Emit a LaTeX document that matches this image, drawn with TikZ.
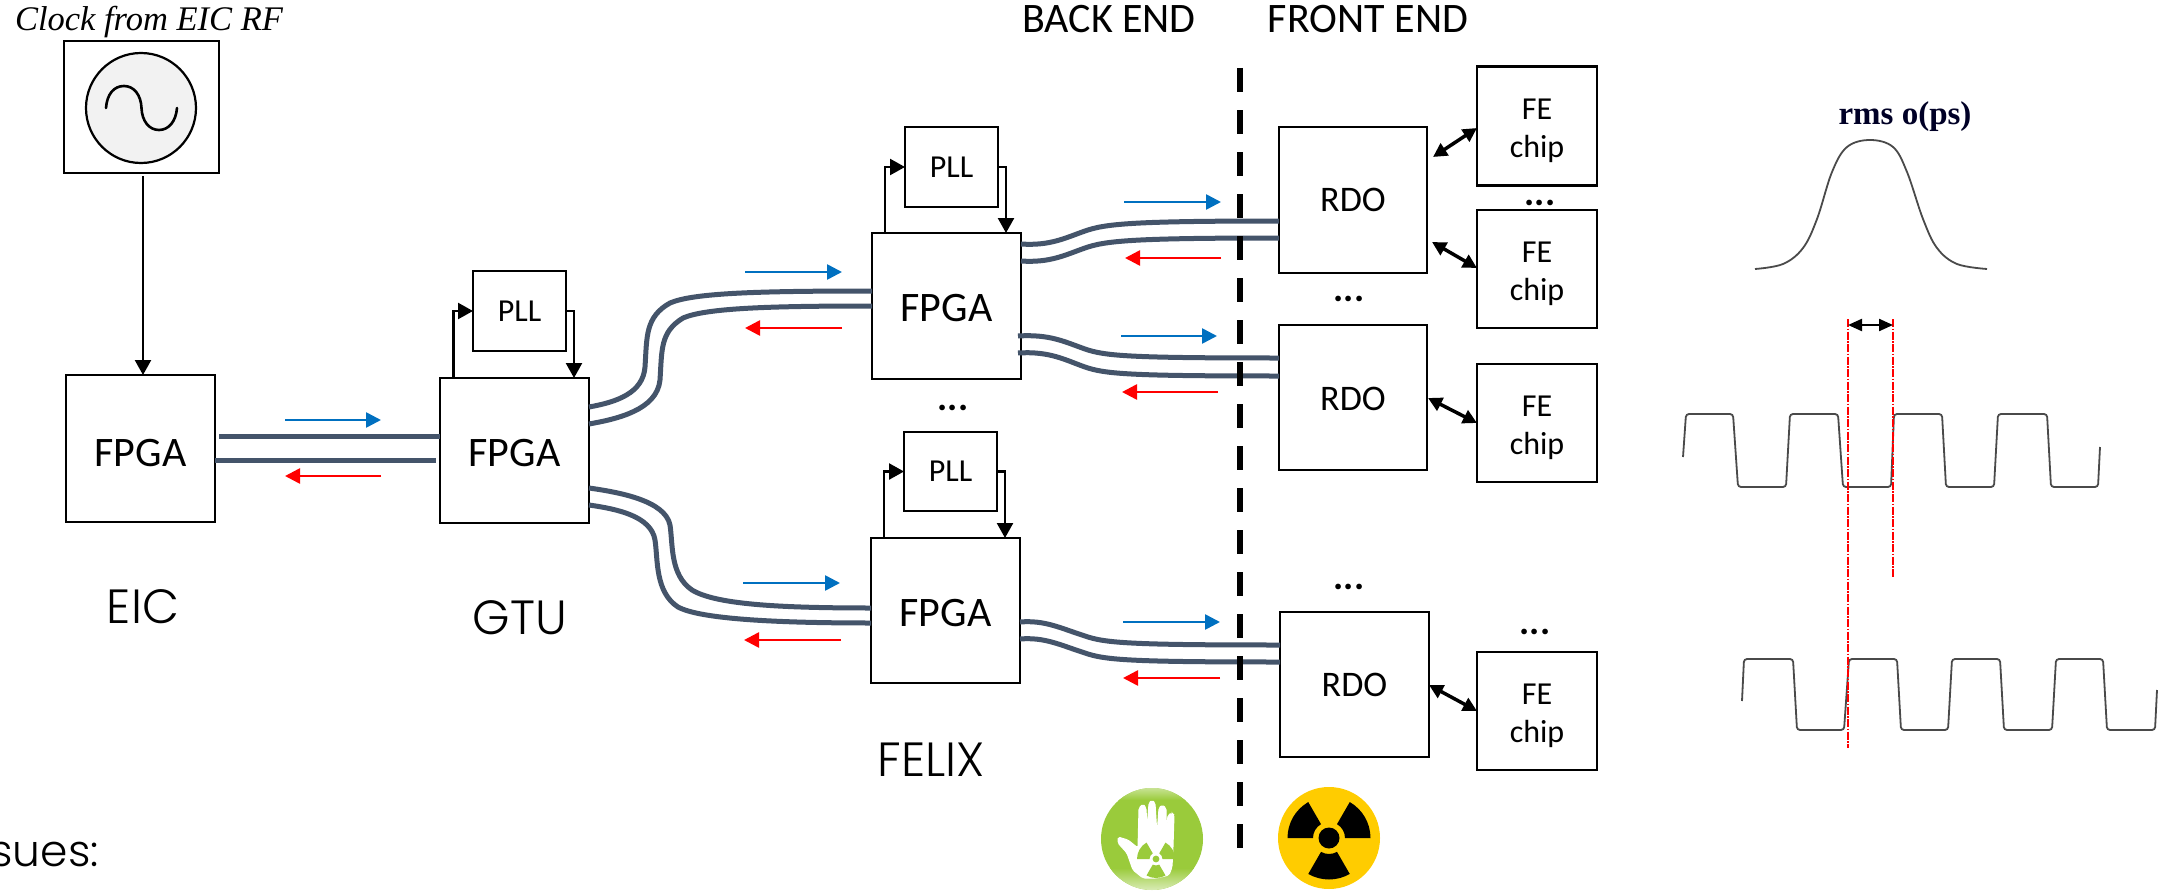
\documentclass[tikz,border=0pt]{standalone}
\usepackage{fontspec}
\usetikzlibrary{arrows.meta,calc}
\setmainfont{Carlito}
\newfontfamily\gothic[UprightFont=* Light]{Poppins}
\newfontfamily\seriffam{Liberation Serif}
\definecolor{wirecol}{HTML}{44546A}
\definecolor{bluecol}{HTML}{0070C0}
\definecolor{wavecol}{HTML}{4A4A4A}
\definecolor{greencol}{HTML}{9ACB3B}
\definecolor{yellowcol}{HTML}{FFCC00}
\newcommand{\fsz}[1]{\fontsize{#1}{#1}\selectfont}
\newcommand{\trefoil}[5]{%
  \begin{scope}[shift={(#1,#2)}]
  \foreach \a in {0,120,240}{
    \fill[#5] (\a:#3pt) -- (\a:#4pt) arc[start angle=\a,delta angle=60,radius=#4pt] -- (\a+60:#3pt) arc[start angle=\a+60,delta angle=-60,radius=#3pt] -- cycle;
  }
  \end{scope}}
\tikzset{
  boxn/.style={draw=black,line width=2.5pt,outer sep=0pt,inner sep=0pt,align=center},
  fpgabox/.style={boxn,minimum width=149pt,minimum height=146pt,font=\fsz{42}},
  pllbox/.style={boxn,minimum width=93pt,minimum height=80pt,font=\fsz{32}},
  rdobox/.style={boxn,minimum width=148pt,minimum height=146pt,font=\fsz{36}},
  febox/.style={boxn,minimum width=120pt,minimum height=118pt,font=\fontsize{32}{38}\selectfont},
  wire/.style={draw=wirecol,line width=5pt},
  bluearrow/.style={draw=bluecol,line width=2.6pt,-{Triangle[length=15pt,width=15pt]}},
  redarrow/.style={draw=red,line width=2.6pt,-{Triangle[length=15pt,width=15pt]}},
  blackarrow/.style={draw=black,line width=2.4pt,-{Triangle[length=15pt,width=16pt]}},
  dblarrow/.style={draw=black,line width=3.5pt,{Triangle[length=14pt,width=14pt]}-{Triangle[length=14pt,width=14pt]}},
  signal/.style={draw=wavecol,line width=1.8pt,rounded corners=3pt},
  reddash/.style={draw=red,line width=1.8pt,dash pattern=on 8pt off 1.5pt on 1.5pt off 1.5pt},
  dots/.style={inner sep=0pt,font=\bfseries\fsz{38}},
  biglabel/.style={inner sep=0pt,font=\gothic\fsz{48}},
  headlabel/.style={inner sep=0pt,font=\fsz{42}}
}
\begin{document}
\begin{tikzpicture}[x=1pt,y=-1pt]
\useasboundingbox (0,0) rectangle (2172,891);
\fill[white] (0,0) rectangle (2172,891);

% source
\node[boxn,minimum width=155pt,minimum height=132pt] (clk) at (141.5,107) {};
\node[draw=black,line width=2.2pt,fill=black!5,circle,minimum size=110pt,inner sep=0pt,outer sep=0pt] (osc) at (141,108) {};
\draw[line width=2.6pt,line cap=round] (106,108) .. controls (107,94) and (114,86) .. (124,86) .. controls (134,86) and (141,95) .. (141.5,108) .. controls (142,121) and (149,130) .. (159,130) .. controls (169,130) and (176,121) .. (177,108);
\node[inner sep=0pt,font=\seriffam\itshape\fsz{34.5}] (clktxt) at (149,22) {Clock from EIC RF};

% boxes
\node[fpgabox,minimum height=147pt] (fa) at (140.5,448.5) {\rule{0pt}{36pt}FPGA};
\node[fpgabox,minimum height=145pt] (fb) at (514.5,450.5) {\rule{0pt}{32pt}FPGA};
\node[fpgabox] (fc) at (946.5,306) {\rule{0pt}{32pt}FPGA};
\node[fpgabox,minimum height=145pt] (fd) at (945.5,610.5) {\rule{0pt}{32pt}FPGA};
\node[pllbox] (pa) at (519.5,311) {PLL};
\node[pllbox] (pb) at (951.5,167) {PLL};
\node[pllbox,minimum height=79pt] (pc) at (950.5,471.5) {PLL};
\node[rdobox] (ra) at (1353,200) {RDO};
\node[rdobox,minimum height=145pt] (rb) at (1353,397.5) {\rule{0pt}{27pt}RDO};
\node[rdobox,minimum width=149pt,minimum height=145pt] (rc) at (1354.5,684.5) {RDO};
\node[febox,minimum height=119pt] (fea) at (1537,126) {\rule{0pt}{31pt}FE\\chip};
\node[febox] (feb) at (1537,269) {\rule{0pt}{31pt}FE\\chip};
\node[febox] (fec) at (1537,423) {\rule{0pt}{31pt}FE\\chip};
\node[febox] (fed) at (1537,711) {\rule{0pt}{31pt}FE\\chip};

% labels
\node[biglabel] (leic) at (143,607) {EIC};
\node[biglabel] (lgtu) at (520,618) {GTU};
\node[biglabel] (lfelix) at (931,760) {FELIX};
\node[inner sep=0pt,font=\gothic\fsz{44},anchor=base east] (lissues) at (99,866) {ssues:};
\node[headlabel] (lback) at (1109,19) {BACK END};
\node[headlabel] (lfront) at (1368,19) {FRONT END};
\node[dots] (d1) at (953,408) {...};
\node[dots] (d2) at (1349,299) {...};
\node[dots] (d3) at (1540,203) {...};
\node[dots] (d4) at (1349,587) {...};
\node[dots] (d5) at (1535,632) {...};

% clock and PLL loops
\draw[blackarrow] (clk.south -| 143,0) ++(0,3) -- (fa.north -| 143,0);
\draw[blackarrow] (fb.north -| 453.5,0) |- (pa.west);
\draw[blackarrow] (pa.east) -| (fb.north -| 574,0);
\draw[blackarrow] (fc.north -| 885,0) |- (pb.west);
\draw[blackarrow] (pb.east) -| (fc.north -| 1006,0);
\draw[blackarrow] (fd.north -| 884,0) |- (pc.west);
\draw[blackarrow] (pc.east) -| (fd.north -| 1005,0);

% fibres
\draw[wire] (fa.east |- 0,436) ++(4,0) -- (fb.west |- 0,436);
\draw[wire] (fa.east |- 0,460) -- ($(fb.west |- 0,460)+(-4,0)$);
\draw[wire] (fb.east |- 0,407) .. controls (617,402) and (643,393) .. (645,367) .. controls (647,337) and (645,317) .. (670,303) .. controls (693,293) and (757,291) .. (fc.west |- 0,291);
\draw[wire] (fb.east |- 0,424) .. controls (617,419) and (657,410) .. (660,380) .. controls (662,350) and (660,332) .. (683,318) .. controls (706,308) and (770,306) .. (fc.west |- 0,306);
\draw[wire] (fb.east |- 0,488) .. controls (617,492) and (665,500) .. (670,525) .. controls (673,545) and (670,575) .. (692,590) .. controls (715,604) and (775,608) .. (fd.west |- 0,608);
\draw[wire] (fb.east |- 0,505) .. controls (617,509) and (651,516) .. (655,540) .. controls (658,560) and (655,592) .. (678,607) .. controls (700,619) and (775,623) .. (fd.west |- 0,623);
\draw[wire] (fc.east |- 0,244) .. controls (1050,246) and (1065,238) .. (1085,231) .. controls (1105,224) and (1130,221) .. (ra.west |- 0,221);
\draw[wire] (fc.east |- 0,261) .. controls (1050,263) and (1065,255) .. (1085,248) .. controls (1105,241) and (1130,238) .. (ra.west |- 0,238);
\draw[wire] (fc.east |- 0,336) ++(-3,0) .. controls (1050,334) and (1065,342) .. (1085,349) .. controls (1105,356) and (1130,358) .. (rb.west |- 0,358);
\draw[wire] (fc.east |- 0,353) ++(-3,0) .. controls (1050,351) and (1065,360) .. (1085,367) .. controls (1105,374) and (1130,376) .. (rb.west |- 0,376);
\draw[wire] (fd.east |- 0,622) .. controls (1045,620) and (1060,628) .. (1085,636) .. controls (1105,643) and (1130,645) .. (rc.west |- 0,645);
\draw[wire] (fd.east |- 0,639) .. controls (1045,637) and (1060,645) .. (1085,653) .. controls (1105,660) and (1130,662) .. (rc.west |- 0,662);

% direction arrows
\coordinate (b1s) at (285,420); \coordinate (b1e) at (381,420);
\coordinate (r1s) at (381,476); \coordinate (r1e) at (285,476);
\coordinate (b2s) at (745,272); \coordinate (b2e) at (842,272);
\coordinate (r2s) at (842,328); \coordinate (r2e) at (745,328);
\coordinate (b3s) at (743,583); \coordinate (b3e) at (840,583);
\coordinate (r3s) at (841,640); \coordinate (r3e) at (744,640);
\coordinate (b4s) at (1124,202); \coordinate (b4e) at (1221,202);
\coordinate (r4s) at (1221,258); \coordinate (r4e) at (1125,258);
\coordinate (b5s) at (1121,336); \coordinate (b5e) at (1217,336);
\coordinate (r5s) at (1218,392); \coordinate (r5e) at (1122,392);
\coordinate (b6s) at (1123,622); \coordinate (b6e) at (1220,622);
\coordinate (r6s) at (1220,678); \coordinate (r6e) at (1123,678);
\foreach \i in {1,...,6}{
  \draw[bluearrow] (b\i s) -- (b\i e);
  \draw[redarrow] (r\i s) -- (r\i e);
}

% boundary
\coordinate (bdtop) at (1240,68); \coordinate (bdbot) at (1240,848);
\draw[line width=6pt,dash pattern=on 24pt off 18pt] (bdtop) -- (bdbot);

% FE links
\draw[dblarrow] (ra.east |- 0,157) ++(6,0) -- (fea.west |- 0,128);
\draw[dblarrow] (ra.east |- 0,242) ++(5,0) -- (feb.west |- 0,268);
\draw[dblarrow] (rb.east |- 0,398) ++(1,0) -- (fec.west |- 0,423);
\draw[dblarrow] (rc.east |- 0,685) -- (fed.west |- 0,711);

% jitter panel
\draw[draw=wavecol,line width=1.8pt] plot[smooth,tension=.6] coordinates {(1755,269) (1783,264) (1803,248) (1817,219) (1832,172) (1847,147) (1870,140) (1893,147) (1907,172) (1923,219) (1937,248) (1957,264) (1987,269)};
\node[inner sep=0pt,font=\seriffam\bfseries\fsz{33},text=black!75!blue!60!black] (rms) at (1905,117) {rms o(ps)};
\draw[signal] (1683,457) -- (1686,414) -- (1733,414) -- (1738,487) -- (1786,487) -- (1790,414) -- (1838,414) -- (1843,487) -- (1891,487) -- (1894,414) -- (1942,414) -- (1946,487) -- (1994,487) -- (1998,414) -- (2047,414) -- (2051,487) -- (2098,487) -- (2100,447);
\draw[signal] (1742,701) -- (1744,659) -- (1793,659) -- (1797,730) -- (1844,730) -- (1849,659) -- (1897,659) -- (1901,730) -- (1948,730) -- (1952,659) -- (2000,659) -- (2004,730) -- (2052,730) -- (2056,659) -- (2103,659) -- (2107,730) -- (2155,730) -- (2157,690);
\coordinate (jla) at (1848,319); \coordinate (jlb) at (1848,748);
\coordinate (jra) at (1893,319); \coordinate (jrb) at (1893,578);
\draw[reddash] (jla) -- (jlb);
\draw[reddash] (jra) -- (jrb);
\coordinate (jal) at (1848,325); \coordinate (jar) at (1893,325);
\draw[draw=black,line width=2.2pt,{Triangle[length=14pt,width=12pt]}-{Triangle[length=14pt,width=12pt]}] (jal) -- (jar);

% safe-zone icon
\fill[greencol] (1152,839) circle[radius=51pt];
\begin{scope}
\clip (1152,839) circle[radius=51pt];
\shade[top color=greencol,bottom color=greencol!35] (1090,868) rectangle (1215,891);
\shade[top color=greencol!55,bottom color=greencol] (1090,788) rectangle (1215,800);
\end{scope}
\fill[white,draw=white,line width=1pt,rounded corners=1.8pt] (1118,837) -- (1128,840) -- (1138,848) -- (1139,808) -- (1143,804) -- (1146,808) -- (1147,830) -- (1149,803) -- (1152,800) -- (1155,803) -- (1157,835) -- (1159,808) -- (1162,805) -- (1166,808) -- (1166,835) -- (1168,815) -- (1172,813) -- (1174,815) -- (1173,847) -- (1172,867) -- (1169,875) -- (1157,878) -- (1143,878) -- (1133,870) -- (1127,853) -- (1118,843) -- cycle;
\trefoil{1156}{859}{6.5}{19}{greencol}
\fill[greencol] (1156,859) circle[radius=3.4pt];

% radiation icon
\fill[yellowcol] (1329,838) circle[radius=51pt];
\trefoil{1329}{838}{16}{41.5}{black}
\fill[black] (1329,838) circle[radius=10.5pt];
\end{tikzpicture}
\end{document}
